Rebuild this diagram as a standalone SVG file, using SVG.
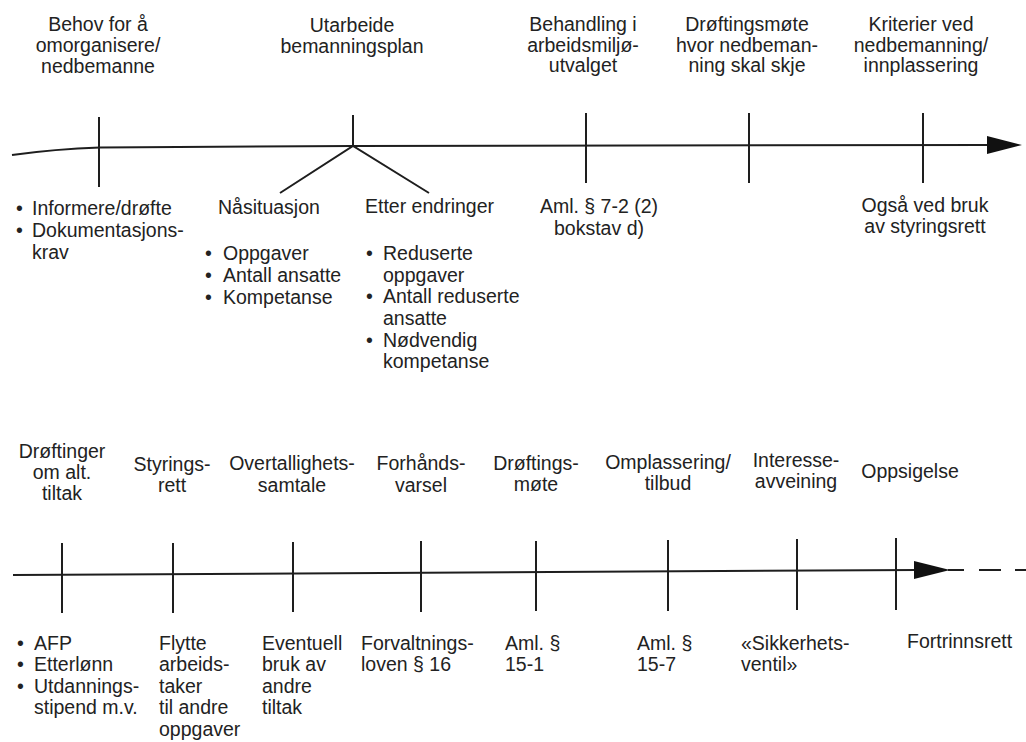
<svg xmlns="http://www.w3.org/2000/svg" width="1026" height="742" viewBox="0 0 1026 742">
<style>
text{font-family:"Liberation Sans",Arial,sans-serif;font-size:19.5px;fill:#222}
.c{text-anchor:middle}
.ln{stroke:#1e1e1e;stroke-width:2;fill:none}
.ah{fill:#111}
</style>
<rect width="1026" height="742" fill="#fff"/>
<g id="connectors">
  <path class="ln" d="M12 155 Q55 149 100 147.5 L353 146 L990 145"/>
  <polygon class="ah" points="987,136 1022,145 987,154"/>
  <path class="ln" d="M13 575 L918 570"/>
  <polygon class="ah" points="914,561 950,570 914,579"/>
  <path class="ln" d="M948 570 L964 570"/>
  <path class="ln" d="M979 570 L1001 570 M1015 570 L1026 570"/>
</g>
<g id="ticks-top">
  <line class="ln" x1="99" y1="117" x2="99" y2="187"/>
  <line class="ln" x1="353" y1="115" x2="353" y2="146"/>
  <path class="ln" d="M280 193 L353 146 L429 193"/>
  <line class="ln" x1="586" y1="113" x2="586" y2="183"/>
  <line class="ln" x1="749" y1="113" x2="749" y2="183"/>
  <line class="ln" x1="923" y1="113" x2="923" y2="183"/>
</g>
<g id="ticks-bottom">
  <line class="ln" x1="62" y1="543" x2="62" y2="613"/>
  <line class="ln" x1="173" y1="543" x2="173" y2="613"/>
  <line class="ln" x1="293" y1="542" x2="293" y2="612"/>
  <line class="ln" x1="421" y1="541" x2="421" y2="612"/>
  <line class="ln" x1="536" y1="541" x2="536" y2="611"/>
  <line class="ln" x1="668" y1="540" x2="668" y2="611"/>
  <line class="ln" x1="797" y1="539" x2="797" y2="610"/>
  <line class="ln" x1="896" y1="538" x2="896" y2="610"/>
</g>
<g id="n-behov">
  <text class="c" x="98" y="31">Behov for å</text>
  <text class="c" x="98" y="52">omorganisere/</text>
  <text class="c" x="98" y="73">nedbemanne</text>
</g>
<g id="n-informere">
  <text x="16" y="215">•</text><text x="32" y="215">Informere/drøfte</text>
  <text x="16" y="237">•</text><text x="32" y="237">Dokumentasjons-</text>
  <text x="32" y="259">krav</text>
</g>
<g id="n-utarbeide">
  <text class="c" x="352" y="32">Utarbeide</text>
  <text class="c" x="352" y="53">bemanningsplan</text>
</g>
<g id="n-nasituasjon">
  <text x="218" y="214">Nåsituasjon</text>
  <text x="205" y="260">•</text><text x="223" y="260">Oppgaver</text>
  <text x="205" y="282">•</text><text x="223" y="282">Antall ansatte</text>
  <text x="205" y="304">•</text><text x="223" y="304">Kompetanse</text>
</g>
<g id="n-etter">
  <text x="365" y="213">Etter endringer</text>
  <text x="366" y="260">•</text><text x="383" y="260">Reduserte</text>
  <text x="383" y="282">oppgaver</text>
  <text x="366" y="303">•</text><text x="383" y="303">Antall reduserte</text>
  <text x="383" y="325">ansatte</text>
  <text x="366" y="347">•</text><text x="383" y="347">Nødvendig</text>
  <text x="383" y="368">kompetanse</text>
</g>
<g id="n-behandling">
  <text class="c" x="583" y="31">Behandling i</text>
  <text class="c" x="583" y="52">arbeidsmiljø-</text>
  <text class="c" x="583" y="72">utvalget</text>
  <text class="c" x="599" y="213">Aml. § 7-2 (2)</text>
  <text class="c" x="599" y="235">bokstav d)</text>
</g>
<g id="n-droftingsmote">
  <text class="c" x="747" y="31">Drøftingsmøte</text>
  <text class="c" x="747" y="52">hvor nedbeman-</text>
  <text class="c" x="747" y="72">ning skal skje</text>
</g>
<g id="n-kriterier">
  <text class="c" x="921" y="31">Kriterier ved</text>
  <text class="c" x="921" y="52">nedbemanning/</text>
  <text class="c" x="921" y="72">innplassering</text>
  <text class="c" x="925" y="212">Også ved bruk</text>
  <text class="c" x="925" y="233">av styringsrett</text>
</g>
<g id="n-droftinger">
  <text class="c" x="62" y="458">Drøftinger</text>
  <text class="c" x="62" y="479">om alt.</text>
  <text class="c" x="62" y="500">tiltak</text>
  <text x="17" y="650">•</text><text x="34" y="650">AFP</text>
  <text x="17" y="671">•</text><text x="34" y="671">Etterlønn</text>
  <text x="17" y="693">•</text><text x="34" y="693">Utdannings-</text>
  <text x="34" y="714">stipend m.v.</text>
</g>
<g id="n-styringsrett">
  <text class="c" x="172" y="471">Styrings-</text>
  <text class="c" x="172" y="492">rett</text>
  <text x="159" y="650">Flytte</text>
  <text x="159" y="671">arbeids-</text>
  <text x="159" y="693">taker</text>
  <text x="159" y="714">til andre</text>
  <text x="159" y="736">oppgaver</text>
</g>
<g id="n-overtallighet">
  <text class="c" x="292" y="470">Overtallighets-</text>
  <text class="c" x="292" y="492">samtale</text>
  <text x="262" y="650">Eventuell</text>
  <text x="262" y="671">bruk av</text>
  <text x="262" y="693">andre</text>
  <text x="262" y="714">tiltak</text>
</g>
<g id="n-forhandsvarsel">
  <text class="c" x="421" y="470">Forhånds-</text>
  <text class="c" x="421" y="492">varsel</text>
  <text x="361" y="650">Forvaltnings-</text>
  <text x="361" y="671">loven § 16</text>
</g>
<g id="n-droftingsmote2">
  <text class="c" x="536" y="470">Drøftings-</text>
  <text class="c" x="536" y="491">møte</text>
  <text x="505" y="650">Aml. §</text>
  <text x="505" y="671">15-1</text>
</g>
<g id="n-omplassering">
  <text class="c" x="668" y="469">Omplassering/</text>
  <text class="c" x="668" y="490">tilbud</text>
  <text x="637" y="650">Aml. §</text>
  <text x="637" y="671">15-7</text>
</g>
<g id="n-interesse">
  <text class="c" x="796" y="467">Interesse-</text>
  <text class="c" x="796" y="488">avveining</text>
  <text x="741" y="650">«Sikkerhets-</text>
  <text x="741" y="671">ventil»</text>
</g>
<g id="n-oppsigelse">
  <text class="c" x="910" y="478">Oppsigelse</text>
  <text x="907" y="648">Fortrinnsrett</text>
</g>
</svg>
